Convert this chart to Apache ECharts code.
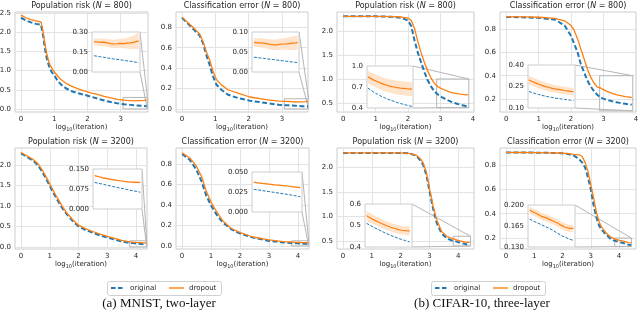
<!DOCTYPE html>
<html><head><meta charset="utf-8">
<script src="https://cdn.jsdelivr.net/npm/echarts@6/dist/echarts.min.js"></script>
<style>html,body{margin:0;padding:0;background:#fff}#c{width:640px;height:312px}</style>
</head><body><div id="c"></div>
<script>
// ================= DATA =================
const titleNames = ['Population risk', 'Classification error', 'Population risk', 'Classification error',
                    'Population risk', 'Classification error', 'Population risk', 'Classification error'];
const sampleSizes = ['800', '800', '800', '800', '3200', '3200', '3200', '3200'];
const seriesNames = ['original', 'dropout'];
const captions = ['(a) MNIST, two-layer', '(b) CIFAR-10, three-layer'];

// tick values
const xTicks3 = [0, 1, 2, 3];
const xTicks4 = [0, 1, 2, 3, 4];
const yTicksRiskMnist = [0, 0.5, 1.0, 1.5, 2.0, 2.5];
const yTicksRiskMnist2 = [0, 0.5, 1.0, 1.5, 2.0];
const yTicksErrMnist = [0, 0.2, 0.4, 0.6, 0.8];
const yTicksRiskCifar = [0.5, 1.0, 1.5, 2.0];
const yTicksErrCifar = [0.2, 0.4, 0.6, 0.8];
const inTicks1 = [0, 0.15, 0.30];
const inTicks2 = [0, 0.05, 0.10];
const inTicks3 = [0.4, 0.7, 1.0];
const inTicks4 = [0.10, 0.25, 0.40];
const inTicks5 = [0, 0.075, 0.150];
const inTicks6 = [0, 0.025, 0.050];
const inTicks7 = [0.4, 0.5, 0.6];
const inTicks8 = [0.130, 0.165, 0.200];

// Panel 1: MNIST population risk, N=800
const x1 = [0, 0.15, 0.3, 0.45, 0.6, 0.66, 0.72, 0.78, 0.85, 0.92, 1.0, 1.1, 1.2, 1.35, 1.5, 1.7, 1.9, 2.1, 2.3, 2.5, 2.7, 2.9];
const drop1 = [2.45, 2.38, 2.33, 2.3, 2.27, 2.05, 1.7, 1.42, 1.2, 1.07, 0.97, 0.86, 0.77, 0.67, 0.6, 0.53, 0.47, 0.42, 0.38, 0.33, 0.29, 0.25];
const orig1 = [2.38, 2.31, 2.26, 2.22, 2.2, 1.95, 1.58, 1.3, 1.1, 0.97, 0.88, 0.74, 0.64, 0.54, 0.47, 0.41, 0.37, 0.32, 0.27, 0.22, 0.18, 0.145];
const xi1 = [3.1, 3.15, 3.2, 3.25, 3.3, 3.35, 3.4, 3.45, 3.5, 3.55, 3.6, 3.65, 3.7, 3.75, 3.78];
const dropIn1 = [0.228, 0.225, 0.222, 0.224, 0.218, 0.213, 0.21, 0.212, 0.215, 0.213, 0.216, 0.218, 0.222, 0.23, 0.232];
const dropSd1 = [0.025, 0.026, 0.027, 0.028, 0.03, 0.03, 0.031, 0.032, 0.034, 0.036, 0.04, 0.045, 0.05, 0.058, 0.062];
const origIn1 = [0.122, 0.118, 0.114, 0.11, 0.106, 0.102, 0.098, 0.095, 0.091, 0.088, 0.084, 0.081, 0.077, 0.072, 0.07];

// Panel 2: MNIST classification error, N=800
const x2 = [0, 0.33, 0.53, 0.63, 0.73, 0.83, 0.93, 1.03, 1.18, 1.38, 1.68, 2.03, 2.53, 2.9];
const drop2 = [0.9, 0.8, 0.735, 0.66, 0.56, 0.48, 0.37, 0.29, 0.236, 0.188, 0.155, 0.117, 0.091, 0.076];
const orig2 = [0.893, 0.786, 0.72, 0.645, 0.53, 0.43, 0.32, 0.24, 0.188, 0.139, 0.107, 0.081, 0.058, 0.041];
const xi2 = [3.1, 3.15, 3.2, 3.25, 3.3, 3.35, 3.4, 3.45, 3.5, 3.55, 3.6, 3.65, 3.7, 3.75, 3.78];
const dropIn2 = [0.074, 0.073, 0.073, 0.072, 0.071, 0.069, 0.068, 0.068, 0.069, 0.07, 0.07, 0.071, 0.072, 0.073, 0.074];
const dropSd2 = [0.011, 0.011, 0.012, 0.012, 0.012, 0.013, 0.013, 0.013, 0.014, 0.014, 0.015, 0.016, 0.017, 0.018, 0.018];
const origIn2 = [0.037, 0.036, 0.035, 0.034, 0.033, 0.032, 0.031, 0.03, 0.029, 0.028, 0.027, 0.026, 0.025, 0.024, 0.023];

// Panel 3: CIFAR population risk, N=800
const x3 = [0, 0.5, 1.0, 1.5, 1.8, 2.0, 2.1, 2.2, 2.3, 2.4, 2.5, 2.6, 2.7, 2.8];
const drop3 = [2.31, 2.31, 2.31, 2.305, 2.295, 2.27, 2.22, 2.05, 1.78, 1.55, 1.35, 1.17, 1.03, 0.92];
const orig3 = [2.31, 2.31, 2.31, 2.3, 2.28, 2.22, 2.1, 1.8, 1.55, 1.35, 1.15, 0.98, 0.85, 0.75];
const xi3 = [2.9, 2.97, 3.04, 3.11, 3.18, 3.25, 3.32, 3.39, 3.46, 3.53, 3.6, 3.67, 3.74, 3.81, 3.85];
const dropIn3 = [0.845, 0.82, 0.795, 0.775, 0.755, 0.737, 0.722, 0.71, 0.7, 0.692, 0.685, 0.68, 0.675, 0.67, 0.672];
const dropSd3 = [0.09, 0.09, 0.091, 0.092, 0.093, 0.094, 0.095, 0.096, 0.097, 0.098, 0.099, 0.1, 0.1, 0.1, 0.1];
const origIn3 = [0.685, 0.65, 0.62, 0.595, 0.57, 0.548, 0.528, 0.51, 0.494, 0.478, 0.464, 0.452, 0.44, 0.428, 0.422];

// Panel 4: CIFAR classification error, N=800
const x4 = [0, 0.5, 1.0, 1.5, 1.8, 2.0, 2.1, 2.2, 2.3, 2.4, 2.5, 2.6, 2.7, 2.8];
const drop4 = [0.905, 0.903, 0.9, 0.89, 0.87, 0.83, 0.785, 0.715, 0.63, 0.545, 0.46, 0.39, 0.34, 0.305];
const orig4 = [0.903, 0.9, 0.895, 0.88, 0.83, 0.74, 0.67, 0.6, 0.5, 0.43, 0.36, 0.31, 0.27, 0.24];
const xi4 = [2.9, 2.97, 3.04, 3.11, 3.18, 3.25, 3.32, 3.39, 3.46, 3.53, 3.6, 3.67, 3.74, 3.81, 3.87];
const dropIn4 = [0.296, 0.285, 0.275, 0.266, 0.258, 0.251, 0.245, 0.239, 0.234, 0.23, 0.226, 0.222, 0.219, 0.216, 0.215];
const dropSd4 = [0.03, 0.03, 0.029, 0.029, 0.028, 0.028, 0.028, 0.027, 0.027, 0.027, 0.026, 0.026, 0.026, 0.025, 0.025];
const origIn4 = [0.215, 0.207, 0.2, 0.194, 0.188, 0.183, 0.178, 0.174, 0.17, 0.166, 0.163, 0.16, 0.157, 0.155, 0.153];

// Panel 5: MNIST population risk, N=3200
const x5 = [0, 0.2, 0.44, 0.6, 0.73, 0.88, 1.02, 1.16, 1.31, 1.45, 1.6, 1.8, 2.0, 2.25, 2.52, 2.75, 3.0, 3.25, 3.5, 3.7];
const drop5 = [2.3, 2.22, 2.12, 2.02, 1.88, 1.7, 1.51, 1.32, 1.14, 0.97, 0.82, 0.66, 0.53, 0.44, 0.37, 0.31, 0.26, 0.21, 0.16, 0.135];
const orig5 = [2.28, 2.2, 2.09, 1.98, 1.84, 1.65, 1.46, 1.27, 1.09, 0.93, 0.79, 0.63, 0.5, 0.41, 0.34, 0.28, 0.23, 0.18, 0.135, 0.11];
const xi5 = [3.8, 3.85, 3.9, 3.95, 4.0, 4.05, 4.1, 4.15, 4.2, 4.25, 4.3, 4.35];
const dropIn5 = [0.125, 0.121, 0.117, 0.114, 0.111, 0.108, 0.106, 0.104, 0.102, 0.101, 0.1, 0.1];
const dropSd5 = [0.003, 0.003, 0.003, 0.003, 0.003, 0.003, 0.003, 0.003, 0.003, 0.003, 0.003, 0.003];
const origIn5 = [0.1, 0.096, 0.093, 0.089, 0.086, 0.082, 0.079, 0.076, 0.072, 0.069, 0.066, 0.063];

// Panel 6: MNIST classification error, N=3200
const x6 = [0, 0.26, 0.49, 0.67, 0.84, 1.01, 1.18, 1.41, 1.7, 2.01, 2.45, 3.0, 3.48];
const drop6 = [0.907, 0.86, 0.78, 0.68, 0.53, 0.42, 0.34, 0.243, 0.17, 0.13, 0.087, 0.058, 0.042];
const orig6 = [0.897, 0.84, 0.745, 0.63, 0.486, 0.39, 0.31, 0.227, 0.162, 0.12, 0.081, 0.049, 0.034];
const xi6 = [3.8, 3.85, 3.9, 3.95, 4.0, 4.05, 4.1, 4.15, 4.2, 4.25, 4.3, 4.35];
const dropIn6 = [0.0373, 0.0365, 0.0358, 0.0352, 0.0346, 0.034, 0.0335, 0.033, 0.0325, 0.0318, 0.0312, 0.0305];
const dropSd6 = [0.0007, 0.0007, 0.0007, 0.0007, 0.0007, 0.0007, 0.0007, 0.0007, 0.0007, 0.0007, 0.0007, 0.0007];
const origIn6 = [0.0284, 0.0276, 0.0268, 0.026, 0.0252, 0.0244, 0.0236, 0.0228, 0.022, 0.0211, 0.0201, 0.019];

// Panel 7: CIFAR population risk, N=3200
const x7 = [0, 0.5, 1.0, 1.5, 2.0, 2.3, 2.55, 2.7, 2.78, 2.9, 3.01, 3.13, 3.25, 3.42, 3.6, 3.75];
const drop7 = [2.3, 2.3, 2.3, 2.3, 2.3, 2.29, 2.25, 2.17, 2.1, 1.9, 1.56, 1.22, 0.94, 0.7, 0.6, 0.56];
const orig7 = [2.3, 2.3, 2.3, 2.3, 2.3, 2.29, 2.24, 2.14, 2.06, 1.84, 1.5, 1.16, 0.88, 0.66, 0.56, 0.52];
const xi7 = [3.85, 3.9, 3.95, 4.0, 4.05, 4.1, 4.15, 4.2, 4.25, 4.3, 4.35, 4.4];
const dropIn7 = [0.545, 0.535, 0.525, 0.516, 0.508, 0.5, 0.493, 0.487, 0.482, 0.478, 0.476, 0.475];
const dropSd7 = [0.022, 0.022, 0.021, 0.021, 0.021, 0.02, 0.02, 0.02, 0.02, 0.02, 0.02, 0.02];
const origIn7 = [0.51, 0.5, 0.49, 0.481, 0.472, 0.463, 0.455, 0.448, 0.441, 0.435, 0.429, 0.424];

// Panel 8: CIFAR classification error, N=3200
const x8 = [0, 0.5, 1.0, 1.5, 1.9, 2.2, 2.4, 2.5, 2.6, 2.7, 2.8, 2.9, 3.0, 3.1, 3.2, 3.3, 3.4, 3.55, 3.7, 3.8];
const drop8 = [0.904, 0.903, 0.902, 0.9, 0.899, 0.893, 0.888, 0.886, 0.884, 0.87, 0.82, 0.75, 0.64, 0.53, 0.41, 0.33, 0.285, 0.24, 0.21, 0.197];
const orig8 = [0.904, 0.903, 0.902, 0.9, 0.898, 0.89, 0.878, 0.863, 0.845, 0.82, 0.78, 0.7, 0.6, 0.47, 0.37, 0.3, 0.265, 0.225, 0.195, 0.182];
const xi8 = [3.87, 3.92, 3.97, 4.02, 4.07, 4.12, 4.17, 4.22, 4.27, 4.32, 4.37, 4.42];
const dropIn8 = [0.1916, 0.188, 0.185, 0.181, 0.179, 0.176, 0.173, 0.17, 0.166, 0.163, 0.161, 0.161];
const dropSd8 = [0.006, 0.006, 0.006, 0.006, 0.006, 0.006, 0.006, 0.006, 0.006, 0.006, 0.006, 0.006];
const origIn8 = [0.1765, 0.173, 0.17, 0.167, 0.164, 0.161, 0.157, 0.153, 0.149, 0.146, 0.143, 0.141];

// ================= LAYOUT (positions, not data) =================
const LAYOUT = [
  {frame:[15,12,148,112],  xr:[-0.18,3.82], yr:[-0.08,2.53],  ins:[92,32,140,72],   ixr:[3.07,3.8],  iyr:[0,0.3]},
  {frame:[176,12,308,112], xr:[-0.18,3.78], yr:[-0.03,0.95],  ins:[252,32,299,72],  ixr:[3.07,3.8],  iyr:[0,0.1]},
  {frame:[337,12,474,112], xr:[-0.19,4.03], yr:[0.31,2.4],    ins:[367,66,413,108], ixr:[2.88,3.87], iyr:[0.4,1.0]},
  {frame:[500,12,636,112], xr:[-0.19,4.0],  yr:[0.09,0.945],  ins:[528,65,575,108], ixr:[2.88,3.9],  iyr:[0.1,0.4]},
  {frame:[15,148,147,249], xr:[-0.21,4.38], yr:[-0.05,2.41],  ins:[93,169,142,209], ixr:[3.78,4.37], iyr:[0,0.15]},
  {frame:[176,148,309,249],xr:[-0.21,4.38], yr:[-0.03,0.955], ins:[252,172,302,212],ixr:[3.78,4.37], iyr:[0,0.05]},
  {frame:[337,148,474,249],xr:[-0.21,4.55], yr:[0.34,2.4],    ins:[365,204,412,247],ixr:[3.83,4.43], iyr:[0.4,0.6]},
  {frame:[500,148,636,249],xr:[-0.21,4.6],  yr:[0.11,0.94],   ins:[528,205,575,247],ixr:[3.85,4.44], iyr:[0.13,0.2]}
];
const LEGEND_LEFT = [107, 431], LEGEND_TOP = 281;
const CAPTION_X = [159, 482], CAPTION_Y = 304;

const PANELS = [
  {x:x1, orig:orig1, drop:drop1, xi:xi1, oi:origIn1, di:dropIn1, sd:dropSd1, xt:xTicks3, yt:yTicksRiskMnist, yd:1, it:inTicks1, id:2},
  {x:x2, orig:orig2, drop:drop2, xi:xi2, oi:origIn2, di:dropIn2, sd:dropSd2, xt:xTicks3, yt:yTicksErrMnist, yd:1, it:inTicks2, id:2},
  {x:x3, orig:orig3, drop:drop3, xi:xi3, oi:origIn3, di:dropIn3, sd:dropSd3, xt:xTicks4, yt:yTicksRiskCifar, yd:1, it:inTicks3, id:1},
  {x:x4, orig:orig4, drop:drop4, xi:xi4, oi:origIn4, di:dropIn4, sd:dropSd4, xt:xTicks4, yt:yTicksErrCifar, yd:1, it:inTicks4, id:2},
  {x:x5, orig:orig5, drop:drop5, xi:xi5, oi:origIn5, di:dropIn5, sd:dropSd5, xt:xTicks4, yt:yTicksRiskMnist2, yd:1, it:inTicks5, id:3},
  {x:x6, orig:orig6, drop:drop6, xi:xi6, oi:origIn6, di:dropIn6, sd:dropSd6, xt:xTicks4, yt:yTicksErrMnist, yd:1, it:inTicks6, id:3},
  {x:x7, orig:orig7, drop:drop7, xi:xi7, oi:origIn7, di:dropIn7, sd:dropSd7, xt:xTicks4, yt:yTicksRiskCifar, yd:1, it:inTicks7, id:1},
  {x:x8, orig:orig8, drop:drop8, xi:xi8, oi:origIn8, di:dropIn8, sd:dropSd8, xt:xTicks4, yt:yTicksErrCifar, yd:1, it:inTicks8, id:3}
];

// ================= STYLE =================
const BLUE = '#1f77b4', ORANGE = '#ff7f0e', BAND = 'rgba(255,127,14,0.22)';
const FONT = 'DejaVu Sans', TXT = '#262626';
const GRIDC = '#e3e3e3', FRAMEC = '#cccccc', CONNC = '#b5b5b5';
const TICK_FS = 7, TITLE_FS = 8;
const BLUE_DASH = [5, 2.5];

function zip(xs, ys) { return xs.map((x, i) => [x, ys[i]]); }

const option = {animation: false, grid: [], xAxis: [], yAxis: [], series: [], graphic: []};

const textEls = [];
PANELS.forEach((p, k) => {
  const L = LAYOUT[k];
  const gm = 2 * k, gi = 2 * k + 1;
  const [l, t, r, b] = L.frame;
  const [il, itp, ir, ib] = L.ins;
  option.grid.push({left: l, top: t, width: r - l, height: b - t, show: true, borderColor: FRAMEC, borderWidth: 1,
    backgroundColor: '#fff', z: 0, containLabel: false, outerBoundsMode: 'none'});
  option.grid.push({left: il, top: itp, width: ir - il, height: ib - itp, show: true, borderColor: FRAMEC, borderWidth: 1,
    backgroundColor: '#fff', z: 5, containLabel: false, outerBoundsMode: 'none'});
  const lab = {fontSize: TICK_FS, fontFamily: FONT, color: TXT};
  option.xAxis.push({type: 'value', gridIndex: gm, min: L.xr[0], max: L.xr[1], z: 0,
    axisLine: {show: false}, axisTick: {show: false, customValues: p.xt},
    splitLine: {show: true, lineStyle: {color: GRIDC, width: 1}},
    axisLabel: Object.assign({customValues: p.xt, margin: 4, formatter: v => String(Math.round(v))}, lab)});
  option.yAxis.push({type: 'value', gridIndex: gm, min: L.yr[0], max: L.yr[1], z: 0,
    axisLine: {show: false}, axisTick: {show: false, customValues: p.yt},
    splitLine: {show: true, lineStyle: {color: GRIDC, width: 1}},
    axisLabel: Object.assign({customValues: p.yt, margin: 4, formatter: v => v.toFixed(p.yd)}, lab)});
  option.xAxis.push({type: 'value', gridIndex: gi, min: L.ixr[0], max: L.ixr[1], z: 6,
    axisLine: {show: false}, axisTick: {show: false}, splitLine: {show: false}, axisLabel: {show: false}});
  option.yAxis.push({type: 'value', gridIndex: gi, min: L.iyr[0], max: L.iyr[1], z: 6,
    axisLine: {show: false}, axisTick: {show: false, customValues: p.it}, splitLine: {show: false},
    axisLabel: Object.assign({customValues: p.it, margin: 4, formatter: v => v.toFixed(p.id)}, lab)});

  const xs = p.x.concat(p.xi);
  const os = p.orig.concat(p.oi);
  const ds = p.drop.concat(p.di);
  option.series.push({name: seriesNames[0], type: 'line', xAxisIndex: gm, yAxisIndex: gm, data: zip(xs, os),
    symbol: 'none', showSymbol: false, silent: true, z: 3,
    itemStyle: {color: BLUE}, lineStyle: {color: BLUE, width: 2, type: BLUE_DASH},
    markArea: {silent: true, itemStyle: {color: 'rgba(0,0,0,0)', borderColor: CONNC, borderWidth: 1},
      data: [[{coord: [L.ixr[0], L.iyr[0]]}, {coord: [L.ixr[1], L.iyr[1]]}]]}});
  option.series.push({name: seriesNames[1], type: 'line', xAxisIndex: gm, yAxisIndex: gm, data: zip(xs, ds),
    symbol: 'none', showSymbol: false, silent: true, z: 4,
    itemStyle: {color: ORANGE}, lineStyle: {color: ORANGE, width: 1.3}});
  // inset: +/- band around dropout, drawn as a polygon through the inset axes
  const hi = p.di.map((v, i) => [p.xi[i], v + p.sd[i]]);
  const lo = p.di.map((v, i) => [p.xi[i], v - p.sd[i]]);
  option.series.push({name: 'band-' + k, type: 'custom', xAxisIndex: gi, yAxisIndex: gi, silent: true, z: 7,
    data: [[p.xi[0], p.di[0]]],
    renderItem: (params, api) => {
      const pts = hi.map(q => api.coord(q)).concat(lo.slice().reverse().map(q => api.coord(q)));
      return {type: 'polygon', shape: {points: pts}, style: {fill: BAND, stroke: null}};
    }});
  option.series.push({name: seriesNames[0], type: 'line', xAxisIndex: gi, yAxisIndex: gi, data: zip(p.xi, p.oi),
    symbol: 'none', silent: true, z: 8, itemStyle: {color: BLUE}, lineStyle: {color: BLUE, width: 1, type: [3, 1.5]}});
  option.series.push({name: seriesNames[1], type: 'line', xAxisIndex: gi, yAxisIndex: gi, data: zip(p.xi, p.di),
    symbol: 'none', silent: true, z: 9, itemStyle: {color: ORANGE}, lineStyle: {color: ORANGE, width: 1.2}});

  // titles and x labels
  const cx = (l + r) / 2;
  textEls.push({type: 'text', x: cx, y: t - 6, z: 20, silent: true, style: {
    text: '{a|' + titleNames[k] + ' (}{i|N}{a| = ' + sampleSizes[k] + ')}',
    align: 'center', verticalAlign: 'middle',
    rich: {a: {fontSize: TITLE_FS, fontFamily: FONT, fill: TXT}, i: {fontSize: TITLE_FS, fontFamily: FONT, fontStyle: 'italic', fill: TXT}}}});
  textEls.push({type: 'text', x: cx, y: b + 15, z: 20, silent: true, style: {
    text: '{a|log}{s|10}{a|(iteration)}', align: 'center', verticalAlign: 'middle',
    rich: {a: {fontSize: TICK_FS, fontFamily: FONT, fill: TXT, lineHeight: 11, verticalAlign: 'middle'},
           s: {fontSize: 5, fontFamily: FONT, fill: TXT, lineHeight: 11, verticalAlign: 'bottom'}}}});
});

// legends (one per sub-figure), drawn as graphic elements
LEGEND_LEFT.forEach(lx => {
  const ly = LEGEND_TOP, cy = ly + 7;
  textEls.push({type: 'rect', z: 20, silent: true, shape: {x: lx + 0.5, y: ly + 0.5, width: 114, height: 14, r: 2},
    style: {fill: '#fff', stroke: '#d0d0d0', lineWidth: 1}});
  textEls.push({type: 'line', z: 21, silent: true, shape: {x1: lx + 4, y1: cy, x2: lx + 17, y2: cy},
    style: {stroke: BLUE, lineWidth: 2, lineDash: [4.5, 2.5]}});
  textEls.push({type: 'text', z: 21, silent: true, x: lx + 23, y: cy, style: {text: seriesNames[0],
    fontSize: 7, fontFamily: FONT, fill: TXT, align: 'left', verticalAlign: 'middle'}});
  textEls.push({type: 'line', z: 21, silent: true, shape: {x1: lx + 62, y1: cy, x2: lx + 77, y2: cy},
    style: {stroke: ORANGE, lineWidth: 1.4}});
  textEls.push({type: 'text', z: 21, silent: true, x: lx + 82, y: cy, style: {text: seriesNames[1],
    fontSize: 7, fontFamily: FONT, fill: TXT, align: 'left', verticalAlign: 'middle'}});
});

captions.forEach((txt, i) => {
  textEls.push({type: 'text', x: CAPTION_X[i], y: CAPTION_Y, z: 20, silent: true, style: {
    text: txt, align: 'center', verticalAlign: 'middle', fontSize: 13, fontFamily: 'Liberation Serif', fill: '#111'}});
});
option.graphic = textEls;

const chart = echarts.init(document.getElementById('c'), null, {renderer: 'canvas'});
chart.setOption(option);

// connectors between inset frame and zoom rectangle (computed via library scales)
const connEls = [];
PANELS.forEach((p, k) => {
  const L = LAYOUT[k];
  const gm = 2 * k, gi = 2 * k + 1;
  [[L.ixr[1], L.iyr[1]], [L.ixr[1], L.iyr[0]]].forEach(pt => {
    const a = chart.convertToPixel({gridIndex: gi}, pt);
    const c = chart.convertToPixel({gridIndex: gm}, pt);
    connEls.push({type: 'line', z: 2, silent: true, shape: {x1: a[0], y1: a[1], x2: c[0], y2: c[1]},
      style: {stroke: CONNC, lineWidth: 1}});
  });
});
chart.setOption({graphic: textEls.concat(connEls)});
</script>
</body></html>
